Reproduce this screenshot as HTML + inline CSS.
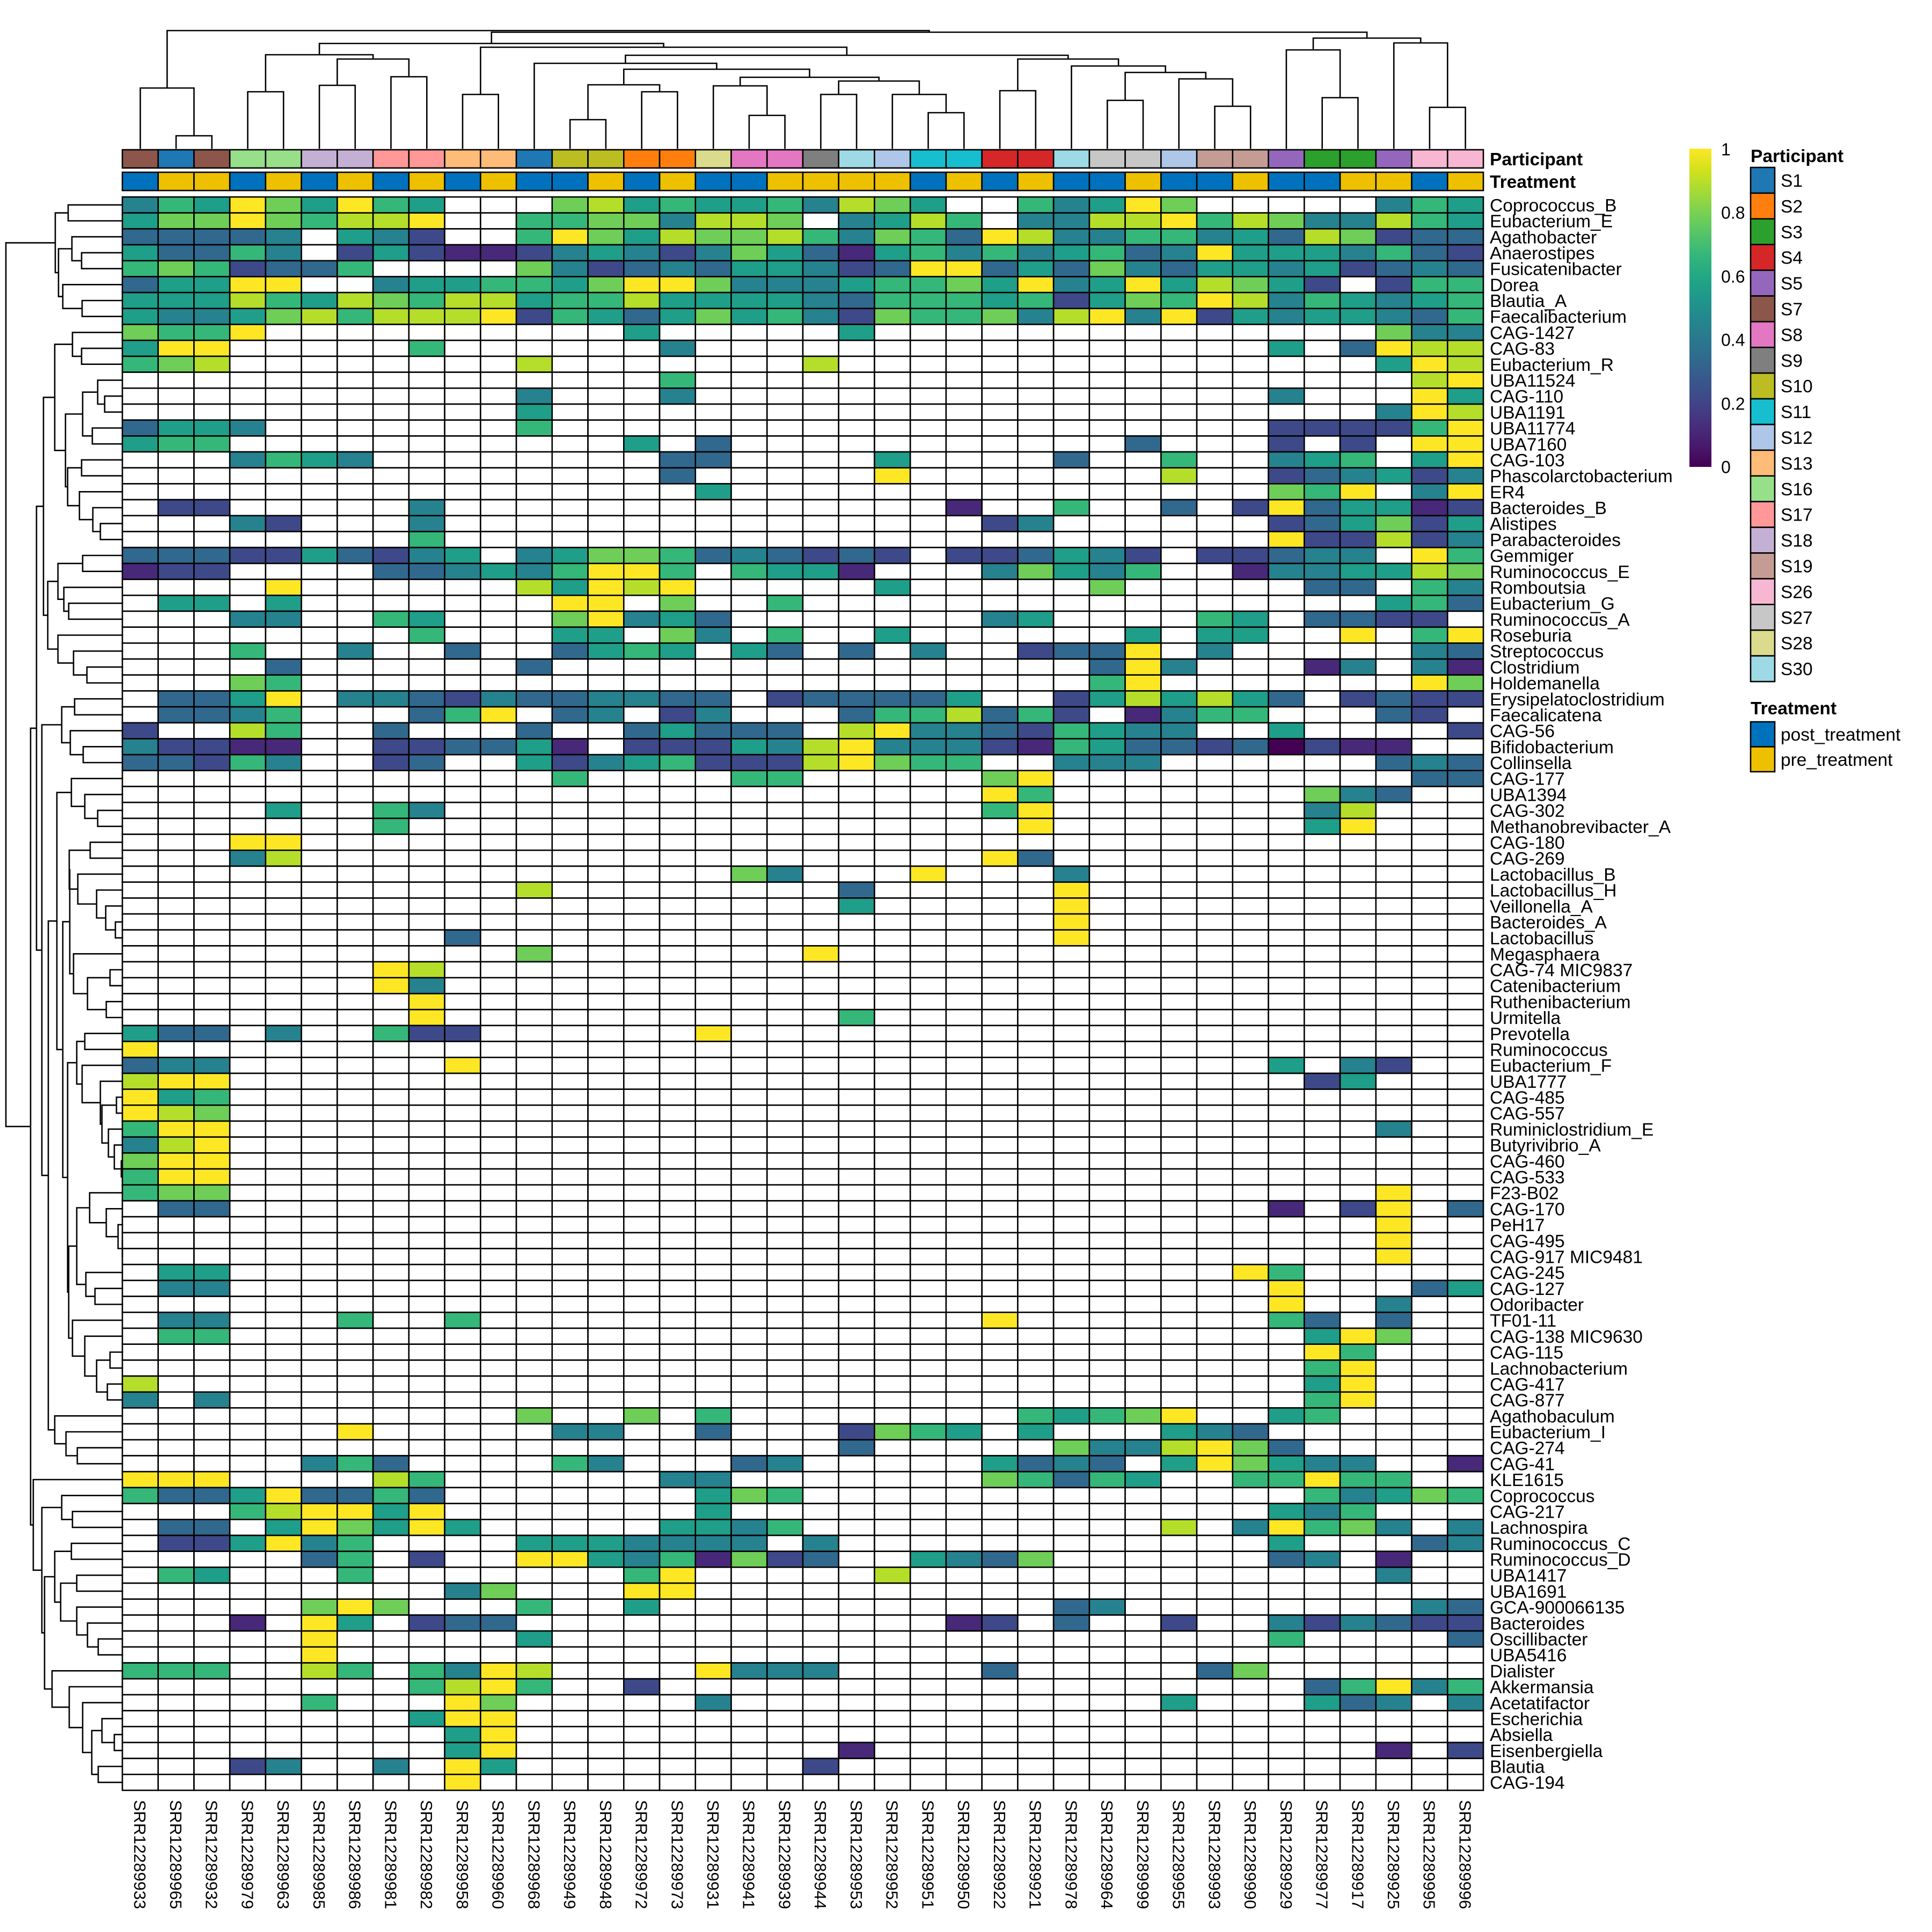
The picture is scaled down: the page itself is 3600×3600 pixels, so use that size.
<!DOCTYPE html>
<html><head><meta charset="utf-8">
<style>
html,body{margin:0;padding:0;background:#fff;}
#c{width:3600px;height:3600px;overflow:hidden;}
svg text{font-family:"Liberation Sans",Arial,sans-serif;}
</style></head>
<body><div id="c"></div>
<script>
const X0=228,X1=2764,Y0=367,Y1=3336,NC=38,NR=100;
const CW=(X1-X0)/NC, RH=(Y1-Y0)/NR;
const FS=33.5, LX=2776, CFS=31;
const VC=['#440154','#482878','#3e4989','#31688e','#26828e','#1f9e89','#35b779','#6ece58','#b5de2b','#fde725'];
const rowNames=["Coprococcus_B","Eubacterium_E","Agathobacter","Anaerostipes","Fusicatenibacter","Dorea","Blautia_A","Faecalibacterium","CAG-1427","CAG-83","Eubacterium_R","UBA11524","CAG-110","UBA1191","UBA11774","UBA7160","CAG-103","Phascolarctobacterium","ER4","Bacteroides_B","Alistipes","Parabacteroides","Gemmiger","Ruminococcus_E","Romboutsia","Eubacterium_G","Ruminococcus_A","Roseburia","Streptococcus","Clostridium","Holdemanella","Erysipelatoclostridium","Faecalicatena","CAG-56","Bifidobacterium","Collinsella","CAG-177","UBA1394","CAG-302","Methanobrevibacter_A","CAG-180","CAG-269","Lactobacillus_B","Lactobacillus_H","Veillonella_A","Bacteroides_A","Lactobacillus","Megasphaera","CAG-74 MIC9837","Catenibacterium","Ruthenibacterium","Urmitella","Prevotella","Ruminococcus","Eubacterium_F","UBA1777","CAG-485","CAG-557","Ruminiclostridium_E","Butyrivibrio_A","CAG-460","CAG-533","F23-B02","CAG-170","PeH17","CAG-495","CAG-917 MIC9481","CAG-245","CAG-127","Odoribacter","TF01-11","CAG-138 MIC9630","CAG-115","Lachnobacterium","CAG-417","CAG-877","Agathobaculum","Eubacterium_I","CAG-274","CAG-41","KLE1615","Coprococcus","CAG-217","Lachnospira","Ruminococcus_C","Ruminococcus_D","UBA1417","UBA1691","GCA-900066135","Bacteroides","Oscillibacter","UBA5416","Dialister","Akkermansia","Acetatifactor","Escherichia","Absiella","Eisenbergiella","Blautia","CAG-194"];
const D=[
"465975965...7856556"+"4875..64597.....465",
"577976889..66774887"+".4586.4488968744865",
"33334.542..69758778"+"6476398446645387233",
"53364.2521124542475"+"3156464563495554632",
"6762336....74234355"+"4239935374355452343",
"35599..455665799744"+"456675945958752.266",
"5558658768856685555"+"4366656257698465456",
"5445786888926535756"+"4276674894925455436",
"7669..........5...."+".5..............744",
"599.....6......4..."+".............5.3988",
"678........8......."+"8...............598",
"...............6..."+".................89",
"...........4...4..."+".............4...95",
"...........5......."+"................498",
"3554.......6......."+".............222269",
"566...........5.3.."+".........3...2.2.99",
"...4654........33.."+"..5....3..6..456.59",
"...............3..."+"..9.......8..234524",
"................5.."+".............769.49",
".22.....4.........."+"....1..6..3.2935512",
"...42...4.........."+".....24......235725",
"........6.........."+".............922824",
"3332253245.45776343"+"232.223542.22344.96",
"122....334546996.65"+"51...47546..1445587",
"....9......85989..."+"..5.....7.....33.64",
".55.5.......99.7..6"+"................563",
"...44..65...79453.."+".....45....65.3322.",
"........6...55.74.6"+"..5......5.55..9.69",
"...6..4..3..3565.53"+".3.4..2339.4.....43",
"....3......3......."+"........394...14.41",
"...76.............."+"........69.......97",
".3359.44324334433.2"+"33335..2585853.2322",
".3346...369.34.24.."+".3668362.1466...32.",
"2..86..3...3..35333"+".8944326544..5....2",
"42211..223351.22254"+"89444216533230211..",
"33264..23..52456222"+"89766..444......343",
"............6....66"+".....79..........33",
"..................."+".....96.......743..",
"....5..64.........."+".....69.......48...",
".......6..........."+"......9.......59...",
"...99.............."+"...................",
"...48.............."+".....93............",
".................74"+"...9...4...........",
"...........8......."+".3.....9...........",
"..................."+".5.....9...........",
"..................."+".......9...........",
".........3........."+".......9...........",
"...........7......."+"9..................",
".......98.........."+"...................",
".......94.........."+"...................",
"........9.........."+"...................",
"........9.........."+".6.................",
"533.4..622......9.."+"...................",
"9.................."+"...................",
"344......9........."+".............5.42..",
"899................"+"..............25...",
"956................"+"...................",
"987................"+"...................",
"699................"+"................4..",
"489................"+"...................",
"799................"+"...................",
"699................"+"...................",
"677................"+"................9..",
".33................"+".............1.29.3",
"..................."+"................9..",
"..................."+"................9..",
"..................."+"................9..",
".55................"+"............96.....",
".44................"+".............9...35",
"..................."+".............9..4..",
".44...6..6........."+".....9.......63.3..",
".66................"+"..............597..",
"..................."+"..............96...",
"..................."+"..............69...",
"8.................."+"..............59...",
"4.4................"+"..............69...",
"...........7..7.6.."+"......65679..56....",
"......9.....44..3.."+".2765.5...543......",
"..................."+".3.....7448973.....",
".....463....64...34"+".....5343.597544..1",
"999....86......44.."+".....76365..66966..",
"633593363.......576"+"..............64576",
"...689959.......5.."+".............546...",
".33.597595.....5546"+"..........8.49674.4",
".225946....5554444."+"4............5...34",
".....36.2..99546172"+"3..5437......34.1..",
".65...6.......69..."+"..8.............4..",
".........47...99..."+"...................",
".....797...6..5...."+".......34........43",
"...1.95.233........"+"....12.3..2..424322",
".....9.....5......."+".............6....3",
".....9............."+"...................",
"666..86.6498....944"+"4....3.....37......",
"........6896..2...."+"..............36946",
".....6...97.....4.."+"..........5...534.4",
"........599........"+"...................",
".........59........"+"...................",
".........59........"+".1..............1.2",
"...24..4.95........"+"2..................",
".........9........."+"..................."
];
const colNames=["33","65","32","79","63","85","86","81","82","58","60","68","49","48","72","73","31","41","39","44","53","52","51","50","22","21","78","64","99","55","93","90","29","77","17","25","95","96"].map(s=>"SRR122899"+s);
const PC={S1:'#1f77b4',S2:'#ff7f0e',S3:'#2ca02c',S4:'#d62728',S5:'#9467bd',S7:'#8c564b',S8:'#e377c2',S9:'#7f7f7f',S10:'#bcbd22',S11:'#17becf',S12:'#aec7e8',S13:'#ffbb78',S16:'#98df8a',S17:'#ff9896',S18:'#c5b0d5',S19:'#c49c94',S26:'#f7b6d2',S27:'#c7c7c7',S28:'#dbdb8d',S30:'#9edae5'};
const part=["S7","S1","S7","S16","S16","S18","S18","S17","S17","S13","S13","S1","S10","S10","S2","S2","S28","S8","S8","S9","S30","S12","S11","S11","S4","S4","S30","S27","S27","S12","S19","S19","S5","S3","S3","S5","S26","S26"];
const treat="BYYBYBYBYBYBBYBYBBYYYYBYBYBBYBBYBBYYBY";
let s=[];
s.push('<svg xmlns="http://www.w3.org/2000/svg" width="3600" height="3600" viewBox="0 0 3600 3600">');
s.push('<rect width="3600" height="3600" fill="#fff"/>');
for(let r=0;r<NR;r++){const row=D[r];for(let c=0;c<NC;c++){const ch=row[c];const f=(ch==='.'||ch===undefined)?'#fff':VC[+ch];
s.push(`<rect x="${(X0+c*CW).toFixed(1)}" y="${(Y0+r*RH).toFixed(1)}" width="${CW.toFixed(1)}" height="${RH.toFixed(1)}" fill="${f}" stroke="#000" stroke-width="2.6"/>`);}}
for(let c=0;c<NC;c++){const x=(X0+c*CW).toFixed(1);
s.push(`<rect x="${x}" y="279" width="${CW.toFixed(1)}" height="34" fill="${PC[part[c]]}" stroke="#000" stroke-width="2.6"/>`);
s.push(`<rect x="${x}" y="321" width="${CW.toFixed(1)}" height="34" fill="${treat[c]==='B'?'#0072bd':'#edc000'}" stroke="#000" stroke-width="2.6"/>`);}
s.push(`<text x="${LX}" y="308" font-size="${FS}" font-weight="bold">Participant</text>`);
s.push(`<text x="${LX}" y="350" font-size="${FS}" font-weight="bold">Treatment</text>`);
for(let r=0;r<NR;r++){s.push(`<text x="${LX}" y="${(Y0+(r+0.5)*RH+FS*0.36).toFixed(1)}" font-size="${FS}">${rowNames[r]}</text>`);}
for(let c=0;c<NC;c++){const cx=X0+(c+0.5)*CW;s.push(`<text transform="translate(${(cx-CFS*0.36).toFixed(1)},3354) rotate(90)" font-size="${CFS}">${colNames[c]}</text>`);}
let L=[];
function rowD(n){if(typeof n==='number')return{p:Y0+(n-0.5)*RH,h:228};
const a=rowD(n[1]),b=rowD(n[2]),h=n[0];
L.push(`M${h} ${a.p.toFixed(1)}V${b.p.toFixed(1)}M${h} ${a.p.toFixed(1)}H${a.h}M${h} ${b.p.toFixed(1)}H${b.h}`);
return{p:(a.p+b.p)/2,h:h};}
function colD(n){if(typeof n==='number')return{p:X0+(n+0.5)*CW,h:276};
const a=colD(n[1]),b=colD(n[2]),h=n[0];
L.push(`M${a.p.toFixed(1)} ${h}H${b.p.toFixed(1)}M${a.p.toFixed(1)} ${h}V${a.h}M${b.p.toFixed(1)} ${h}V${b.h}`);
return{p:(a.p+b.p)/2,h:h};}
const A=[103,[127,1,2],[109,[134,3,[152,4,5]],[117,6,[153,7,8]]]];
const B=[102,[135,9,[152,10,11]],[122,[154,[182,12,[195,13,14]],[172,15,16]],[126,[152,17,18],[148,19,[173,20,[187,21,22]]]]]];
const C=[89,[108,[154,23,24],[119,25,[128,26,27]]],[108,28,[137,29,[162,30,31]]]];
const Dd=[115,[139,32,33],[131,34,[155,35,36]]];
const E1=[133,37,[158,38,[182,39,40]]];
const E2=[129,[168,41,42],[145,43,[180,44,[197,45,[215,46,47]]]]];
const E3=[137,48,[163,[205,49,50],[198,51,52]]];
const F1=[143,[158,53,54],[153,55,[187,56,[190,[217,57,58],[202,59,[213,60,[226,61,62]]]]]]];
const G1=[143,[167,63,[198,64,[220,65,[228,66,67]]]],[160,68,[177,69,70]]];
const G2=[135,71,[158,72,[180,[205,73,74],[200,75,76]]]];
const F=[126,F1,[128,G1,G2]];
const E=[106,E1,[117,[130,E2,E3],F]];
const H=[102,77,[123,78,[144,79,80]]];
const n305=[102,[133,85,86],[113,[143,87,88],[143,89,[163,90,[183,91,92]]]]];
const I=[97,93,[129,94,[154,95,[171,[190,96,[213,97,98]],[183,99,100]]]]];
const bottom=[62,81,[78,[115,82,[135,83,84]],[83,n305,I]]];
const rootR=[11,A,[57,[68,[81,B,C],[78,Dd,[90,E,H]]],bottom]];
rowD(rootR);
const c0=[164,0,[253,1,2]];
const c1=[102,[171,3,4],[110,[159,5,6],[143,7,8]]];
const c2a=[118,11,[129,[158,[223,12,13],[171,14,15]],[144,[160,16,[215,17,18]],[151,[176,19,20],[176,21,[210,22,23]]]]]];
const c2b=[110,[169,24,25],[123,26,[135,[187,27,28],[147,29,[198,30,31]]]]];
const c2=[88,[176,9,10],[103,c2a,c2b]];
const c3=[71,[93,32,[182,33,34]],[80,35,[200,36,37]]];
const rootC=[57,c0,[60,[81,c1,c2],c3]];
colD(rootC);
s.push(`<path d="${L.join('')}" fill="none" stroke="#000" stroke-width="2.6" stroke-linecap="square"/>`);
const vir=['#440154','#481a6c','#472f7d','#414487','#39568c','#31688e','#2a788e','#23888e','#1f988b','#22a884','#35b779','#54c568','#7ad151','#a5db36','#d2e21b','#fde725'];
s.push('<defs><linearGradient id="g" x1="0" y1="1" x2="0" y2="0">');
vir.forEach((c,i)=>s.push(`<stop offset="${(i/(vir.length-1)).toFixed(3)}" stop-color="${c}"/>`));
s.push('</linearGradient></defs>');
s.push('<rect x="3148" y="277" width="41" height="593" fill="url(#g)"/>');
[['1',278],['0.8',396],['0.6',515],['0.4',633],['0.2',752],['0',870]].forEach(t=>s.push(`<text x="3207" y="${t[1]+11.5}" font-size="32">${t[0]}</text>`));
s.push(`<text x="3262" y="302" font-size="${FS}" font-weight="bold">Participant</text>`);
const pl=["S1","S2","S3","S4","S5","S7","S8","S9","S10","S11","S12","S13","S16","S17","S18","S19","S26","S27","S28","S30"];
const bh=(1270-312)/20;
pl.forEach((p,i)=>{const y=312+i*bh;s.push(`<rect x="3262" y="${y.toFixed(1)}" width="45" height="${bh.toFixed(1)}" fill="${PC[p]}" stroke="#000" stroke-width="2.6"/>`);
s.push(`<text x="3318" y="${(y+bh/2+12).toFixed(1)}" font-size="${FS}">${p}</text>`);});
s.push(`<text x="3262" y="1331" font-size="${FS}" font-weight="bold">Treatment</text>`);
s.push('<rect x="3262" y="1345" width="45" height="46.5" fill="#0072bd" stroke="#000" stroke-width="2.6"/>');
s.push('<rect x="3262" y="1391.5" width="45" height="46.5" fill="#edc000" stroke="#000" stroke-width="2.6"/>');
s.push(`<text x="3318" y="1380" font-size="${FS}">post_treatment</text>`);
s.push(`<text x="3318" y="1427" font-size="${FS}">pre_treatment</text>`);
s.push('</svg>');
document.getElementById('c').innerHTML=s.join('');
</script>
</body></html>
